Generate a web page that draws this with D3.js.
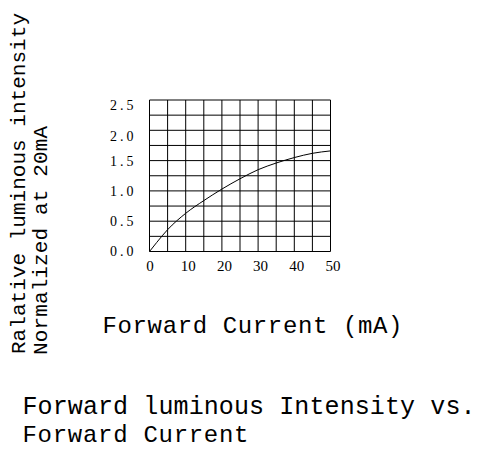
<!DOCTYPE html>
<html>
<head>
    <meta charset="utf-8">
    <script src="https://d3js.org/d3.v7.min.js"></script>
    <style>
        body { margin: 0; background: white; }
        text { font-family: "Liberation Mono", monospace; fill: black; }
    </style>
</head>
<body>
<script>
    var w = 479, h = 450

    // readings: forward current (mA) vs relative intensity
    var current = [0, 2, 5, 10, 15, 20, 25, 30, 35, 40, 45, 50]
    var intensity = [0, 0.15, 0.36, 0.63, 0.84, 1.03, 1.2, 1.35, 1.46, 1.55, 1.62, 1.66]

    var xTicks = [0, 10, 20, 30, 40, 50]
    var yTicks = [0, 0.5, 1.0, 1.5, 2.0, 2.5]
    var xGrid = d3.range(0, 51, 5)
    var yGrid = d3.range(0, 2.51, 0.25)

    var svg = d3.select('body').append('svg')
        .attr('width', w).attr('height', h)

    var xscale = d3.scaleLinear().domain([0, 50]).range([149.5, 330.5])
    var yscale = d3.scaleLinear().domain([0, 2.5]).range([251.5, 100])

    // grid
    svg.append("g").selectAll("line").data(xGrid).join("line")
        .attr("x1", d => xscale(d)).attr("x2", d => xscale(d))
        .attr("y1", yscale(0)).attr("y2", yscale(2.5))
        .attr("stroke", "black").attr("stroke-width", 1)

    svg.append("g").selectAll("line").data(yGrid).join("line")
        .attr("x1", xscale(0)).attr("x2", xscale(50))
        .attr("y1", d => yscale(d)).attr("y2", d => yscale(d))
        .attr("stroke", "black").attr("stroke-width", 1)

    // tick labels
    svg.append("g")
        .attr("transform", "translate(" + xscale(0) + ",0)")
        .call(d3.axisLeft(yscale).tickValues(yTicks).tickFormat(d3.format(".1f")).tickSize(0).tickPadding(13))
        .call(g => g.select(".domain").remove())
        .selectAll("text")
        .attr("font-size", 14)
        .attr("letter-spacing", 3)
        .attr("dy", d => d >= 2 ? "0.7em" : "0.32em")
        .style("font-family", "Liberation Serif, serif")

    svg.append("g")
        .attr("transform", "translate(0," + yscale(0) + ")")
        .call(d3.axisBottom(xscale).tickValues(xTicks).tickSize(0).tickPadding(9))
        .call(g => g.select(".domain").remove())
        .selectAll("text")
        .attr("font-size", 15)
        .attr("dx", d => d == 0 ? 0 : 2)
        .style("font-family", "Liberation Serif, serif")

    // curve
    var line = d3.line()
        .x((d, i) => xscale(current[i]))
        .y(d => yscale(d))
        .curve(d3.curveMonotoneX)

    svg.append("path")
        .attr("d", line(intensity))
        .attr("fill", "none")
        .attr("stroke", "black")
        .attr("stroke-width", 1)

    // axis labels
    svg.append("text")
        .attr("x", 102.5).attr("y", 333)
        .attr("font-size", 24)
        .attr("textLength", 300)
        .attr("lengthAdjust", "spacing")
        .text("Forward Current (mA)")

    svg.append("text")
        .attr("transform", "translate(25,354) rotate(-90)")
        .attr("font-size", 21)
        .attr("textLength", 341)
        .attr("lengthAdjust", "spacing")
        .text("Ralative luminous intensity")

    svg.append("text")
        .attr("transform", "translate(47,355) rotate(-90)")
        .attr("font-size", 21)
        .attr("textLength", 229)
        .attr("lengthAdjust", "spacing")
        .text("Normalized at 20mA")

    // title
    svg.append("text")
        .attr("x", 22.5).attr("y", 414)
        .attr("font-size", 25)
        .attr("textLength", 453)
        .attr("lengthAdjust", "spacing")
        .text("Forward luminous Intensity vs.")

    svg.append("text")
        .attr("x", 22.5).attr("y", 442)
        .attr("font-size", 24)
        .attr("textLength", 226)
        .attr("lengthAdjust", "spacing")
        .text("Forward Current")
</script>
</body>
</html>
